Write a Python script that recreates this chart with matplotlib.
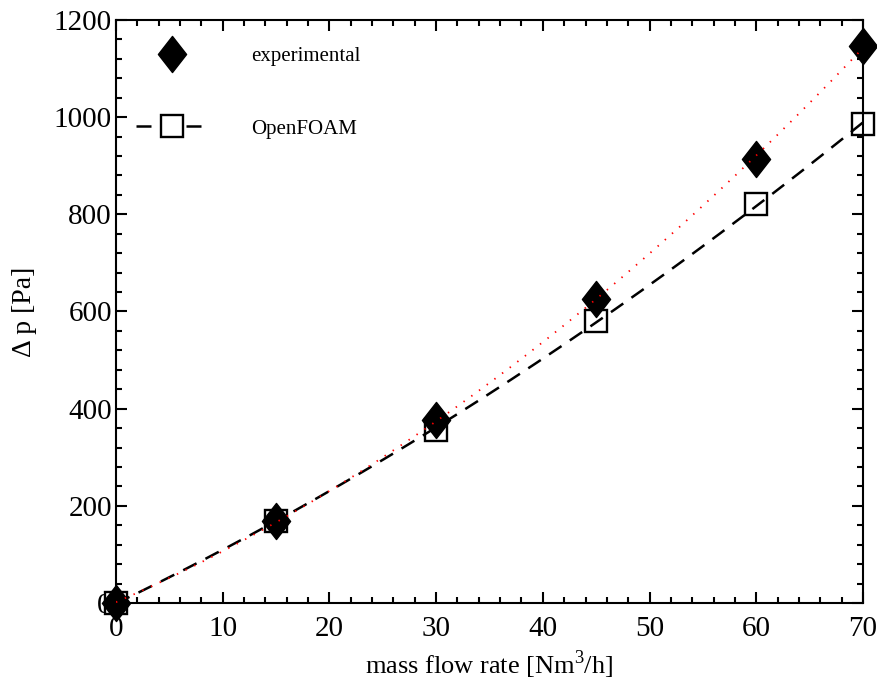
import numpy as np
import matplotlib.pyplot as plt
from matplotlib.path import Path
from matplotlib.ticker import MultipleLocator

plt.rcParams['font.family'] = ['Liberation Serif', 'DejaVu Serif']
plt.rcParams['mathtext.fontset'] = 'custom'
plt.rcParams['mathtext.rm'] = 'Liberation Serif'

# data
flow = [0, 15, 30, 45, 60, 70]
dp_exp = [0, 168, 376, 626, 914, 1147]
dp_foam = [0, 169, 357, 580, 821, 986]

# wide diamond marker
diamond = Path([(0, 1), (0.78, 0), (0, -1), (-0.78, 0), (0, 1)],
               [Path.MOVETO, Path.LINETO, Path.LINETO, Path.LINETO, Path.CLOSEPOLY])

fig = plt.figure(figsize=(8.78, 6.84), dpi=100)
ax = fig.add_axes([0.1321, 0.1184, 0.8508, 0.8524])

# quadratic fits drawn as lines
xf = np.linspace(0, 70, 200)
p_exp = np.polyfit(flow, dp_exp, 2)
p_foam = np.polyfit(flow, dp_foam, 2)
ax.plot(xf, np.polyval(p_exp, xf), color='red', lw=1.3, dashes=(0.8, 4.5), zorder=4)
ax.plot(xf, np.polyval(p_foam, xf), color='black', lw=1.8, dashes=(6, 4), zorder=3)

ax.plot(flow, dp_foam, ls='none', marker='s', ms=16, mfc='white', mec='black', mew=1.7,
        zorder=2, clip_on=False)
ax.plot(flow, dp_exp, ls='none', marker=diamond, ms=26, color='black', zorder=2, clip_on=False)

# legend handles
h1, = ax.plot([], [], ls='none', marker=diamond, ms=26, color='black')
h2, = ax.plot([], [], color='black', lw=1.8, dashes=(6, 4),
              marker='s', ms=16, mfc='white', mec='black', mew=1.7)
ax.legend([h1, h2], ['experimental', 'OpenFOAM'], loc='upper left',
          bbox_to_anchor=(0.027, 0.955), frameon=False, fontsize=15,
          handlelength=3.4, handletextpad=2.1, labelspacing=2.55,
          borderpad=0, borderaxespad=0, numpoints=1)

ax.set_xlim(0, 70)
ax.set_ylim(0, 1200)
ax.xaxis.set_major_locator(MultipleLocator(10))
ax.xaxis.set_minor_locator(MultipleLocator(2))
ax.yaxis.set_major_locator(MultipleLocator(200))
ax.yaxis.set_minor_locator(MultipleLocator(40))
ax.tick_params(which='both', direction='in', top=True, right=True, width=1.5, labelsize=21)
ax.tick_params(which='major', length=8)
ax.tick_params(which='minor', length=4)
ax.tick_params(axis='x', pad=9)
ax.tick_params(axis='y', pad=3)
for s in ax.spines.values():
    s.set_linewidth(1.5)

ax.set_xlabel('mass flow rate [Nm$^3$/h]', fontsize=19, labelpad=5)
ax.set_ylabel('Δ p [Pa]', fontsize=20, labelpad=12)

fig.savefig('out.png', dpi=100)
